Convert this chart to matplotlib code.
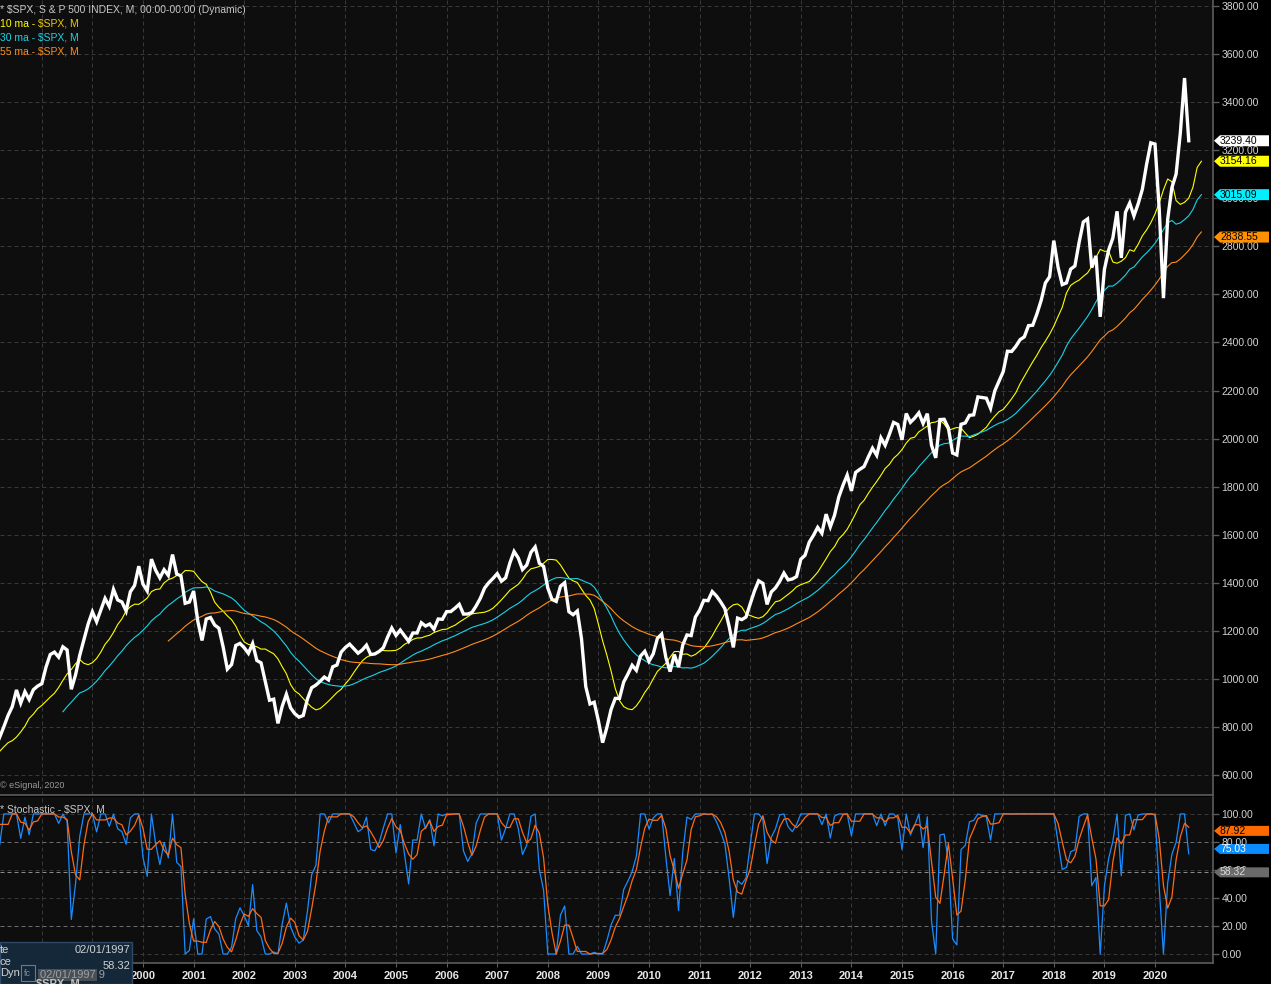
import numpy as np
import matplotlib
matplotlib.use("Agg")
import matplotlib.pyplot as plt
from matplotlib.patches import Polygon, Rectangle
from matplotlib.transforms import blended_transform_factory

plt.rcParams['font.family'] = ['Liberation Sans', 'DejaVu Sans']

# monthly closes of $SPX, first bar = Oct 1995
first_year, first_month = 1995, 10
spx_close = [
    581.50, 605.37, 615.93,
    636.02, 640.43, 645.50, 654.17, 669.12, 670.63, 639.95, 651.99, 687.33, 705.27, 757.02, 740.74,
    786.16, 790.82, 757.12, 801.34, 848.28, 885.14, 954.29, 899.47, 947.28, 914.62, 955.40, 970.43,
    980.28, 1049.34, 1101.75, 1111.75, 1090.82, 1133.84, 1120.67, 957.28, 1017.01, 1098.67, 1163.63, 1229.23,
    1279.64, 1238.33, 1286.37, 1335.18, 1301.84, 1372.71, 1328.72, 1320.41, 1282.71, 1362.93, 1388.91, 1469.25,
    1394.46, 1366.42, 1498.58, 1452.43, 1420.60, 1454.60, 1430.83, 1517.68, 1436.51, 1429.40, 1314.95, 1320.28,
    1366.01, 1239.94, 1160.33, 1249.46, 1255.82, 1224.42, 1211.23, 1133.58, 1040.94, 1059.78, 1139.45, 1148.08,
    1130.20, 1106.73, 1147.39, 1076.92, 1067.14, 989.82, 911.62, 916.07, 815.28, 885.76, 936.31, 879.82,
    855.70, 841.15, 848.18, 916.92, 963.59, 974.50, 990.31, 1008.01, 995.97, 1050.71, 1058.20, 1111.92,
    1131.13, 1144.94, 1126.21, 1107.30, 1120.68, 1140.84, 1101.72, 1104.24, 1114.58, 1130.20, 1173.82, 1211.92,
    1181.27, 1203.60, 1180.59, 1156.85, 1191.50, 1191.33, 1234.18, 1220.33, 1228.81, 1207.01, 1249.48, 1248.29,
    1280.08, 1280.66, 1294.83, 1310.61, 1270.09, 1270.20, 1276.66, 1303.82, 1335.85, 1377.94, 1400.63, 1418.30,
    1438.24, 1406.82, 1420.86, 1482.37, 1530.62, 1503.35, 1455.27, 1473.99, 1526.75, 1549.38, 1481.14, 1468.36,
    1378.55, 1330.63, 1322.70, 1385.59, 1400.38, 1280.00, 1267.38, 1282.83, 1166.36, 968.75, 896.24, 903.25,
    825.88, 735.09, 797.87, 872.81, 919.14, 919.32, 987.48, 1020.62, 1057.08, 1036.19, 1095.63, 1115.10,
    1073.87, 1104.49, 1169.43, 1186.69, 1089.41, 1030.71, 1101.60, 1049.33, 1141.20, 1183.26, 1180.55, 1257.64,
    1286.12, 1327.22, 1325.83, 1363.61, 1345.20, 1320.64, 1292.28, 1218.89, 1131.42, 1253.30, 1246.96, 1257.60,
    1312.41, 1365.68, 1408.47, 1397.91, 1310.33, 1362.16, 1379.32, 1406.58, 1440.67, 1412.16, 1416.18, 1426.19,
    1498.11, 1514.68, 1569.19, 1597.57, 1630.74, 1606.28, 1685.73, 1632.97, 1681.55, 1756.54, 1805.81, 1848.36,
    1782.59, 1859.45, 1872.34, 1883.95, 1923.57, 1960.23, 1930.67, 2003.37, 1972.29, 2018.05, 2067.56, 2058.90,
    1994.99, 2104.50, 2067.89, 2085.51, 2107.39, 2063.11, 2103.84, 1972.18, 1920.03, 2079.36, 2080.41, 2043.94,
    1940.24, 1932.23, 2059.74, 2065.30, 2096.95, 2098.86, 2173.60, 2170.95, 2168.27, 2126.15, 2198.81, 2238.83,
    2278.87, 2363.64, 2362.72, 2384.20, 2411.80, 2423.41, 2470.30, 2471.65, 2519.36, 2575.26, 2647.58, 2673.61,
    2823.81, 2713.83, 2640.87, 2648.05, 2705.27, 2718.37, 2816.29, 2901.52, 2913.98, 2711.74, 2760.17, 2506.85,
    2704.10, 2784.49, 2834.40, 2945.83, 2752.06, 2941.76, 2980.38, 2926.46, 2976.74, 3037.56, 3140.98, 3230.78,
    3225.52, 2954.22, 2584.59, 2912.43, 3044.31, 3100.29, 3271.12, 3500.31, 3239.40,
]

ma_lengths = [10, 30, 55]
ma_colors = ['#ffff00', '#1ad3e6', '#ff8c1a']
ma_shift = 3          # the averages are drawn displaced 3 bars forward
stoch_len = 14
stoch_smooth = 3

# values shown in the right-hand tags
price_tags = [3239.40, 3154.16, 3015.09, 2838.55]
price_tag_colors = ['#ffffff', '#ffff00', '#00f0ff', '#ff9000']
stoch_tags = [87.92, 75.03, 58.32]
stoch_tag_colors = ['#ff6a00', '#0a8cff', '#6a6a6a']
stoch_tag_text = ['#000000', '#ffffff', '#d8d8d8']
cursor_value = 58.32
cursor_date = '02/01/1997'

price_ticks = list(range(600, 3801, 200))
stoch_ticks = [0, 20, 40, 60, 80, 100]
years = list(range(1998, 2021))
first_labelled_year = 2000   # 1998 and 1999 sit under the data window

W, H = 1271, 984
BG = '#0e0e0e'
GRID = '#383838'

close = np.array(spx_close)
n = len(close)
t = np.array([first_year + (first_month - 1 + i) / 12.0 for i in range(n)])


def wma(values, length):
    w = np.arange(1, length + 1)
    out = np.full(len(values), np.nan)
    for i in range(length - 1, len(values)):
        out[i] = np.dot(values[i - length + 1:i + 1], w) / w.sum()
    return out


# stochastic from the monthly closes
k = np.full(n, np.nan)
for i in range(stoch_len - 1, n):
    win = close[i - stoch_len + 1:i + 1]
    k[i] = (close[i] - win.min()) / (win.max() - win.min()) * 100
d = np.full(n, np.nan)
for i in range(stoch_len + stoch_smooth - 2, n):
    d[i] = k[i - stoch_smooth + 1:i + 1].mean()

fig = plt.figure(figsize=(W / 100, H / 100), dpi=100, facecolor='#000000')

x0, x1 = 1997.174, 2021.146
main_lim = (517.3, 3825.0)
stoch_lim = (-6.4, 112.1)

ax = fig.add_axes([0, 1 - 795 / H, 1213 / W, 795 / H], facecolor=BG)
ax2 = fig.add_axes([0, 1 - 963 / H, 1213 / W, 166 / H], facecolor=BG)

for a in (ax, ax2):
    a.set_xlim(x0, x1)
    for s in ('left', 'top'):
        a.spines[s].set_visible(False)
    for s in ('right', 'bottom'):
        a.spines[s].set_color('#5c5c5c')
        a.spines[s].set_linewidth(1.2)
    a.yaxis.tick_right()
    a.tick_params(axis='y', colors='#5c5c5c', length=4, width=1, pad=2,
                  labelcolor='#d4d4d4', labelsize=7.5)
    for yr in years:
        a.axvline(yr, color=GRID, lw=0.72, ls=(0, (4, 3)), zorder=0)

# main price panel
ax.set_ylim(*main_lim)
ax.set_yticks(price_ticks)
ax.set_yticklabels(['%.2f' % v for v in price_ticks])
ax.set_xticks([])
for v in price_ticks:
    ax.axhline(v, color=GRID, lw=0.72, ls=(0, (4, 3)), zorder=0)

for length, col in zip(ma_lengths, ma_colors):
    m = wma(close, length)
    ax.plot(t + ma_shift / 12.0, m, color=col, lw=0.8, zorder=2)
ax.plot(t, close, color='#ffffff', lw=2.4, zorder=3, solid_joinstyle='miter')

# stochastic panel
ax2.set_ylim(*stoch_lim)
ax2.set_yticks(stoch_ticks)
ax2.set_yticklabels(['%.2f' % v for v in stoch_ticks])
for v in stoch_ticks:
    c = '#6c6c6c' if v in (20, 80) else GRID
    ax2.axhline(v, color=c, lw=0.72, ls=(0, (4, 3)), zorder=0)
ax2.axhline(cursor_value, color='#8a8a8a', lw=0.72, ls=(0, (4, 3)), zorder=0)
ax2.plot(t, k, color='#1a8cff', lw=0.9, zorder=2)
ax2.plot(t, d, color='#ff6a10', lw=0.9, zorder=3)

ax2.set_xticks(years)
ax2.set_xticklabels([str(y) if y >= first_labelled_year else '' for y in years])
ax2.tick_params(axis='x', colors='#5c5c5c', length=3, pad=3,
                labelcolor='#e6e6e6', labelsize=8)
for lab in ax2.get_xticklabels():
    lab.set_fontweight('bold')


def tag(a, value, text, face, tcol, px_per_unit, h=11):
    tr = blended_transform_factory(fig.transFigure, a.transData)
    dh = h / 2.0 / px_per_unit
    pts = [(1214 / W, value), (1220 / W, value + dh), (1269 / W, value + dh),
           (1269 / W, value - dh), (1220 / W, value - dh)]
    a.add_patch(Polygon(pts, closed=True, transform=tr, facecolor=face,
                        edgecolor='none', clip_on=False, zorder=10))
    a.text(1220 / W, value, text, transform=tr, color=tcol, fontsize=7.5,
           ha='left', va='center', clip_on=False, zorder=11)


main_ppu = 795 / (main_lim[1] - main_lim[0])
stoch_ppu = 166 / (stoch_lim[1] - stoch_lim[0])
for v, c in zip(price_tags, price_tag_colors):
    tag(ax, v, '%.2f' % v, c, '#000000', main_ppu)
for v, c, tc in zip(stoch_tags, stoch_tag_colors, stoch_tag_text):
    tag(ax2, v, '%.2f' % v, c, tc, stoch_ppu, h=10)


def ftext(x, y, s, **kw):
    fig.text(x / W, 1 - y / H, s, va='center', **kw)


# header texts
ftext(0, 10, '* $SPX, S & P 500 INDEX, M, 00:00-00:00 (Dynamic)', color='#c8c8c8', fontsize=7.5)
ftext(0, 24, '10 ma - ', color='#ffff00', fontsize=7.5)
ftext(38, 24, '$SPX, M', color='#f0c800', fontsize=7.5)
ftext(0, 38, '30 ma - ', color='#1ad3e6', fontsize=7.5)
ftext(38, 38, '$SPX, M', color='#1ad3e6', fontsize=7.5)
ftext(0, 52, '55 ma - $SPX, M', color='#ff8c1a', fontsize=7.5)
ftext(0, 786, '\u00a9 eSignal, 2020', color='#9a9a9a', fontsize=6.5)
ftext(0, 809, '* Stochastic - $SPX, M', color='#c8c8c8', fontsize=7.5)

# cursor data window in the lower left corner
fig.patches.append(Rectangle((0, 0), 132 / W, 42 / H, transform=fig.transFigure,
                             facecolor='#15283a', edgecolor='#2e4a66', lw=1, zorder=20))
fig.patches.append(Rectangle((21 / W, 1 - 981 / H), 14 / W, 16 / H, transform=fig.transFigure,
                             facecolor='#15283a', edgecolor='#6a7a8a', lw=0.8, zorder=21))
fig.patches.append(Rectangle((38 / W, 1 - 981 / H), 59 / W, 12 / H, transform=fig.transFigure,
                             facecolor='#4a4f55', edgecolor='none', zorder=21))
ftext(0, 950, 'te', color='#d0d0d0', fontsize=8, zorder=22)
ftext(130, 950, cursor_date, color='#d0d0d0', fontsize=8, ha='right', zorder=22)
ftext(0, 962, 'ce', color='#d0d0d0', fontsize=8, zorder=22)
ftext(130, 966, '%.2f' % cursor_value, color='#d0d0d0', fontsize=8, ha='right', zorder=22)
ftext(0, 973, 'Dyn', color='#d0d0d0', fontsize=8, zorder=22)
ftext(24, 973, 'fc', color='#8090a0', fontsize=6.5, zorder=22)
ftext(40, 975, cursor_date + ' 9', color='#9aa0a8', fontsize=8, zorder=22)
ftext(36, 984, '$SPX, M', color='#c0c0c0', fontsize=8, fontweight='bold', zorder=22)

fig.savefig('out.png', dpi=100, facecolor=fig.get_facecolor())
